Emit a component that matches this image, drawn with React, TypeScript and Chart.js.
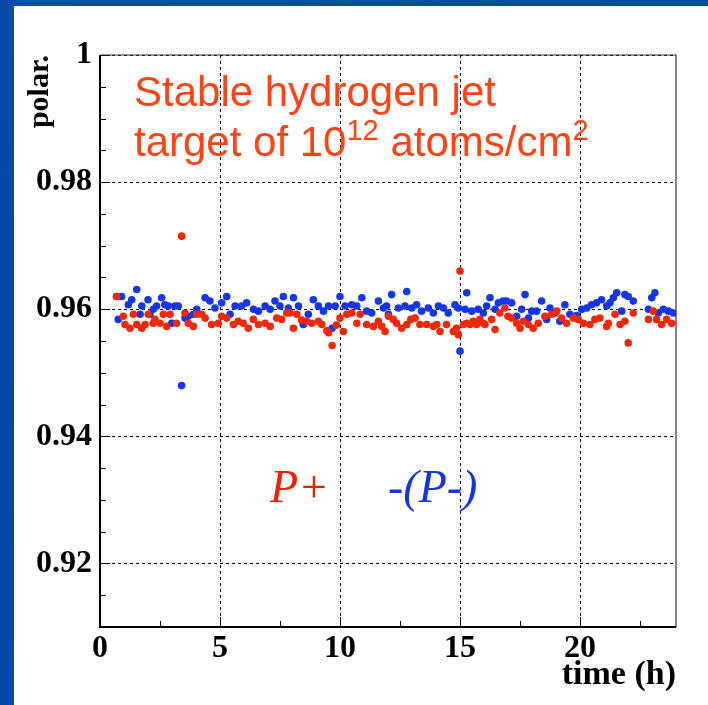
import React, { useEffect, useRef } from 'react';
import { Chart, registerables } from 'chart.js';

Chart.register(...registerables);

// ---- Data ----
const redTimes = [
  0.69, 0.97, 1.04, 1.25, 1.39, 1.53, 1.74, 1.88, 2.01, 2.22, 2.29, 2.5, 2.64, 2.78, 2.92, 3.19, 3.4, 3.54, 3.68, 3.89,
  4.03, 4.24, 4.38, 4.65, 4.93, 5.07, 5.28, 5.56, 5.76, 5.97, 6.18, 6.39, 6.6, 6.88, 7.09, 7.36, 7.57, 7.78, 7.92, 8.06,
  8.2, 8.4, 8.61, 8.82, 9.1, 9.24, 9.45, 9.52, 9.67, 9.85, 10.0, 10.14, 10.28, 10.49, 10.7, 10.84, 11.11, 11.39, 11.6, 11.74,
  11.88, 12.02, 12.22, 12.36, 12.57, 12.78, 12.95, 13.13, 13.33, 13.61, 13.89, 14.03, 14.17, 14.44, 14.72, 14.85, 14.93, 15.0, 15.14, 15.28,
  15.42, 15.55, 15.69, 15.83, 15.97, 16.04, 16.32, 16.46, 16.66, 16.87, 17.0, 17.15, 17.36, 17.5, 17.64, 17.85, 18.05, 18.26, 18.54, 18.82,
  19.03, 19.23, 19.44, 19.72, 19.93, 20.14, 20.41, 20.62, 20.83, 21.11, 21.18, 21.46, 21.67, 21.87, 22.01, 22.22, 22.85, 23.05, 23.19, 23.4,
  23.61, 23.82,
];
const redValues = [
  0.962, 0.9589, 0.9576, 0.957, 0.9592, 0.9576, 0.957, 0.9576, 0.9592, 0.9578, 0.9584, 0.9578, 0.9592, 0.9573, 0.9592, 0.9578, 0.9715, 0.9594, 0.9578, 0.9573,
  0.9592, 0.9592, 0.9586, 0.9576, 0.9578, 0.9589, 0.9586, 0.9576, 0.9581, 0.9578, 0.957, 0.9584, 0.9576, 0.9578, 0.9573, 0.9586, 0.9584, 0.9594, 0.9594, 0.957,
  0.9592, 0.9583, 0.9581, 0.9578, 0.9581, 0.9576, 0.9566, 0.9563, 0.9543, 0.9575, 0.9586, 0.9565, 0.9592, 0.9594, 0.9578, 0.9592, 0.9576, 0.9573, 0.9581, 0.9573,
  0.9565, 0.9589, 0.9584, 0.9578, 0.957, 0.9576, 0.9584, 0.9586, 0.9576, 0.9576, 0.9573, 0.9576, 0.9565, 0.9576, 0.9565, 0.957, 0.956, 0.966, 0.9576, 0.9578,
  0.9576, 0.9581, 0.9576, 0.9584, 0.9578, 0.9576, 0.9584, 0.9568, 0.9594, 0.9602, 0.9589, 0.9586, 0.9578, 0.957, 0.9581, 0.9576, 0.957, 0.9578, 0.9589, 0.9592,
  0.9597, 0.9586, 0.9578, 0.9586, 0.9584, 0.9578, 0.9576, 0.9584, 0.9586, 0.9573, 0.9578, 0.9592, 0.9576, 0.9581, 0.9547, 0.9594, 0.9584, 0.9597, 0.9584, 0.9576,
  0.9584, 0.9578,
];
const blueTimes = [
  0.69, 0.76, 0.9, 1.18, 1.32, 1.53, 1.67, 1.74, 2.0, 2.08, 2.22, 2.36, 2.57, 2.7, 2.85, 2.99, 3.13, 3.26, 3.4, 3.54,
  3.68, 3.89, 4.03, 4.38, 4.58, 4.79, 5.07, 5.28, 5.42, 5.63, 5.9, 6.11, 6.39, 6.6, 6.88, 7.09, 7.29, 7.5, 7.64, 7.85,
  8.06, 8.27, 8.47, 8.68, 8.89, 9.1, 9.31, 9.52, 9.67, 9.8, 10.0, 10.21, 10.49, 10.7, 10.91, 11.11, 11.32, 11.6, 11.81, 11.94,
  12.02, 12.15, 12.43, 12.71, 12.78, 12.99, 13.19, 13.4, 13.68, 13.89, 14.1, 14.31, 14.51, 14.79, 14.93, 15.0, 15.21, 15.28, 15.49, 15.76,
  15.97, 16.11, 16.25, 16.46, 16.6, 16.8, 16.94, 17.15, 17.36, 17.57, 17.71, 17.85, 17.99, 18.19, 18.4, 18.61, 18.75, 18.96, 19.16, 19.37,
  19.58, 19.86, 20.07, 20.28, 20.48, 20.69, 20.9, 21.11, 21.25, 21.39, 21.53, 21.74, 21.87, 22.01, 22.22, 22.85, 22.99, 23.12, 23.26, 23.47,
  23.68, 23.89,
];
const blueValues = [
  0.962, 0.9584, 0.962, 0.9607, 0.9615, 0.9631, 0.9592, 0.9605, 0.9615, 0.9592, 0.96, 0.9605, 0.9618, 0.9607, 0.9605, 0.9578, 0.9605, 0.9605, 0.948, 0.9586,
  0.9589, 0.9592, 0.96, 0.9618, 0.9613, 0.9602, 0.961, 0.962, 0.9592, 0.9605, 0.9605, 0.961, 0.96, 0.9597, 0.9605, 0.96, 0.9613, 0.9605, 0.962, 0.9602,
  0.9618, 0.9605, 0.9576, 0.9592, 0.9615, 0.9605, 0.9597, 0.9605, 0.957, 0.9605, 0.962, 0.9605, 0.9607, 0.9605, 0.9618, 0.9597, 0.9594, 0.9613, 0.9602, 0.9605,
  0.9592, 0.9623, 0.9602, 0.9605, 0.9628, 0.9602, 0.9607, 0.9597, 0.9602, 0.9594, 0.9605, 0.9602, 0.9594, 0.9607, 0.9602, 0.9534, 0.96, 0.9626, 0.9597, 0.96,
  0.9594, 0.9605, 0.9618, 0.96, 0.961, 0.9613, 0.9613, 0.961, 0.9589, 0.96, 0.9623, 0.9586, 0.9597, 0.9597, 0.9613, 0.9584, 0.9602, 0.9594, 0.9581, 0.9607,
  0.9592, 0.959, 0.96, 0.9602, 0.9607, 0.961, 0.9615, 0.9605, 0.961, 0.9618, 0.9626, 0.9597, 0.9623, 0.962, 0.9613, 0.96, 0.9618, 0.9626, 0.9594, 0.96,
  0.9597, 0.9594,
];

const X_MIN = 0;
const X_MAX = 24;
const Y_MIN = 0.91;
const Y_MAX = 1.0;
const X_TITLE = 'time (h)';
const Y_TITLE = 'polar.';

const SERIF = "'Liberation Serif', 'Times New Roman', 'DejaVu Serif', serif";
const SANS = "'Liberation Sans', Arial, 'DejaVu Sans', sans-serif";

const framePlugin = {
  id: 'frameTicks',
  afterDatasetsDraw(chart: any) {
    const { ctx, chartArea: a, scales } = chart;
    const xs = scales.x;
    const ys = scales.y;
    ctx.save();
    ctx.strokeStyle = '#000';
    ctx.lineWidth = 1;
    ctx.beginPath();
    for (let i = 0; i * 2.5 <= X_MAX; i++) {
      const px = Math.round(xs.getPixelForValue(i * 2.5)) + 0.5;
      const len = i % 2 === 0 ? 10 : 6;
      ctx.moveTo(px, a.bottom);
      ctx.lineTo(px, a.bottom - len);
    }
    for (let i = 182; i <= 200; i++) {
      const py = Math.round(ys.getPixelForValue(i * 0.005)) + 0.5;
      const len = i % 4 === 0 ? 10 : 6;
      ctx.moveTo(a.left, py);
      ctx.lineTo(a.left + len, py);
    }
    ctx.stroke();
    ctx.lineWidth = 1.2;
    ctx.strokeStyle = '#333';
    ctx.beginPath();
    ctx.moveTo(a.left, a.top);
    ctx.lineTo(a.right, a.top);
    ctx.lineTo(a.right, a.bottom);
    ctx.stroke();
    ctx.lineWidth = 2;
    ctx.strokeStyle = '#000';
    ctx.beginPath();
    ctx.moveTo(a.left, a.top);
    ctx.lineTo(a.left, a.bottom);
    ctx.lineTo(a.right, a.bottom);
    ctx.stroke();
    ctx.restore();
  },
};

export default function App() {
  const canvasRef = useRef<HTMLCanvasElement | null>(null);

  useEffect(() => {
    if (!canvasRef.current) return;
    const red = redTimes.map((t, i) => ({ x: t, y: redValues[i] }));
    const blue = blueTimes.map((t, i) => ({ x: t, y: blueValues[i] }));
    const chart = new Chart(canvasRef.current, {
      type: 'scatter',
      data: {
        datasets: [
          {
            label: 'P+',
            data: red,
            backgroundColor: '#F0280A',
            borderWidth: 0,
            pointRadius: 3.8,
            pointHoverRadius: 3.8,
          },
          {
            label: '-(P-)',
            data: blue,
            backgroundColor: '#1436E6',
            borderWidth: 0,
            pointRadius: 3.8,
            pointHoverRadius: 3.8,
          },
        ],
      },
      options: {
        responsive: false,
        animation: false,
        layout: { padding: { left: 20, top: 55, right: 32, bottom: 3 } },
        plugins: { legend: { display: false }, tooltip: { enabled: false } },
        scales: {
          x: {
            type: 'linear',
            min: X_MIN,
            max: X_MAX,
            afterFit: (s: any) => {
              s.height = 75;
            },
            ticks: {
              stepSize: 5,
              includeBounds: false,
              color: '#000',
              padding: 3,
              maxRotation: 0,
              font: { family: SERIF, size: 32, weight: 'bold' },
              callback: (v: any) => String(v),
            },
            grid: { color: '#000', lineWidth: 1, drawTicks: false },
            border: { display: false, dash: [3, 3] },
            title: {
              display: true,
              text: X_TITLE,
              align: 'end',
              color: '#000',
              font: { family: SERIF, size: 34, weight: 'bold' },
              padding: { top: 0, bottom: 6 },
            },
          },
          y: {
            type: 'linear',
            min: Y_MIN,
            max: Y_MAX,
            afterFit: (s: any) => {
              s.width = 80;
            },
            ticks: {
              stepSize: 0.02,
              includeBounds: false,
              color: '#000',
              padding: 8,
              font: { family: SERIF, size: 32, weight: 'bold' },
              callback: (v: any) => (Math.abs(v - 1) < 1e-9 ? '1' : Number(v).toFixed(2)),
            },
            grid: { color: '#000', lineWidth: 1, drawTicks: false },
            border: { display: false, dash: [3, 3] },
            title: {
              display: true,
              text: Y_TITLE,
              align: 'end',
              color: '#000',
              font: { family: SERIF, size: 30, weight: 'bold' },
              padding: { top: 2, bottom: 0 },
            },
          },
        },
      },
      plugins: [framePlugin],
    } as any);
    return () => chart.destroy();
  }, []);

  return (
    <div
      style={{
        position: 'fixed',
        left: 0,
        top: 0,
        width: 708,
        height: 705,
        background: 'linear-gradient(160deg, #0a4cab 0%, #0047a6 50%, #0a4fb0 100%)',
        overflow: 'hidden',
      }}
    >
      <div style={{ position: 'absolute', left: 14, top: 6, right: 0, bottom: 0, background: '#fff' }} />
      <canvas ref={canvasRef} width={708} height={705} style={{ position: 'absolute', left: 0, top: 0 }} />
      <div
        style={{
          position: 'absolute',
          left: 134,
          top: 67,
          fontFamily: SANS,
          fontSize: 42,
          lineHeight: '50px',
          color: '#FF4315',
          whiteSpace: 'nowrap',
          pointerEvents: 'none',
        }}
      >
        <div>Stable hydrogen jet</div>
        <div>
          target of 10
          <span style={{ fontSize: 29, position: 'relative', top: -16 }}>12</span> atoms/cm
          <span style={{ fontSize: 29, position: 'relative', top: -16 }}>2</span>
        </div>
      </div>
      <div
        style={{
          position: 'absolute',
          left: 270,
          top: 462,
          fontFamily: SERIF,
          fontStyle: 'italic',
          fontSize: 46,
          lineHeight: '50px',
          color: '#EE2200',
          whiteSpace: 'nowrap',
          pointerEvents: 'none',
        }}
      >
        P+
      </div>
      <div
        style={{
          position: 'absolute',
          left: 388,
          top: 462,
          fontFamily: SERIF,
          fontStyle: 'italic',
          fontSize: 46,
          lineHeight: '50px',
          color: '#1533E0',
          whiteSpace: 'nowrap',
          pointerEvents: 'none',
        }}
      >
        -(P-)
      </div>
    </div>
  );
}
